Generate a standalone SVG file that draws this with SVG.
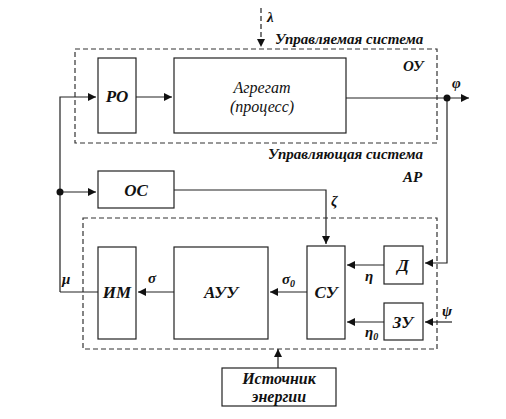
<svg xmlns="http://www.w3.org/2000/svg" width="506" height="419" viewBox="0 0 506 419">
<style>
.box{fill:#fff;stroke:#222;stroke-width:1.2}
.dash{fill:none;stroke:#333;stroke-width:1.2;stroke-dasharray:5,3}
.ln{fill:none;stroke:#222;stroke-width:1.2}
text{font-family:'Liberation Serif','Times New Roman',serif;font-style:italic;font-weight:bold;fill:#111}
.tn{font-weight:normal}
</style>
<defs>
<marker id="ar" viewBox="0 0 10 10" refX="10" refY="5" markerWidth="10" markerHeight="8" markerUnits="userSpaceOnUse" orient="auto">
<path d="M0,0 L10,5 L0,10 z" fill="#111"/>
</marker>
</defs>
<rect width="506" height="419" fill="#fff"/>
<g id="controlled-system">
<rect class="dash" x="75" y="49" width="362" height="94"/>
<text x="275" y="44" font-size="15">Управляемая система</text>
<text x="403" y="71" font-size="15">ОУ</text>
</g>
<g id="controlling-system">
<rect class="dash" x="83" y="218" width="354" height="131"/>
<text x="268" y="159" font-size="15">Управляющая система</text>
<text x="403" y="182" font-size="15">АР</text>
</g>
<g id="connectors">
<path class="ln" d="M261,8 V47" stroke-dasharray="5,3" marker-end="url(#ar)"/>
<path class="ln" d="M136,97 H172" marker-end="url(#ar)"/>
<path class="ln" d="M346,98 H469" marker-end="url(#ar)"/>
<path class="ln" d="M447,98 V263 H425" marker-end="url(#ar)"/>
<path class="ln" d="M60,292 V97 H96" marker-end="url(#ar)"/>
<path class="ln" d="M60,192 H96" marker-end="url(#ar)"/>
<path class="ln" d="M174,190 H326 V244" marker-end="url(#ar)"/>
<path class="ln" d="M98,292 H60"/>
<path class="ln" d="M174,292 H138" marker-end="url(#ar)"/>
<path class="ln" d="M307,292 H270" marker-end="url(#ar)"/>
<path class="ln" d="M384,265 H347" marker-end="url(#ar)"/>
<path class="ln" d="M384,322 H347" marker-end="url(#ar)"/>
<path class="ln" d="M452,322 H425" marker-end="url(#ar)"/>
<path class="ln" d="M278,368 V349" marker-end="url(#ar)"/>
<circle cx="447" cy="98" r="3.5" fill="#111"/>
<circle cx="60" cy="192" r="3.5" fill="#111"/>
<text x="267" y="22" font-size="15">λ</text>
<text x="452" y="88" font-size="15">φ</text>
<text x="331" y="206" font-size="15">ζ</text>
<text x="62" y="284" font-size="15">μ</text>
<text x="148" y="283" font-size="15">σ</text>
<text x="282" y="284" font-size="15">σ<tspan font-size="10" dy="3">0</tspan></text>
<text x="365" y="281" font-size="15">η</text>
<text x="365" y="337" font-size="15">η<tspan font-size="10" dy="3">0</tspan></text>
<text x="442" y="316" font-size="15">ψ</text>
</g>
<g id="PO"><rect class="box" x="98" y="58" width="38" height="75"/><text x="117" y="102" font-size="17" text-anchor="middle">РО</text></g>
<g id="aggregate"><rect class="box" x="174" y="58" width="172" height="75"/><text class="tn" x="262" y="93" font-size="16" text-anchor="middle">Агрегат</text><text class="tn" x="262" y="112" font-size="16" text-anchor="middle">(процесс)</text></g>
<g id="OC"><rect class="box" x="98" y="171" width="76" height="37"/><text x="136" y="196" font-size="17" text-anchor="middle">ОС</text></g>
<g id="IM"><rect class="box" x="98" y="247" width="38" height="92"/><text x="117" y="298" font-size="17" text-anchor="middle">ИМ</text></g>
<g id="AUU"><rect class="box" x="174" y="247" width="94" height="92"/><text x="221" y="298" font-size="17" text-anchor="middle">АУУ</text></g>
<g id="SU"><rect class="box" x="307" y="246" width="38" height="93"/><text x="326" y="298" font-size="17" text-anchor="middle">СУ</text></g>
<g id="D"><rect class="box" x="384" y="246" width="39" height="38"/><text x="403" y="271" font-size="17" text-anchor="middle">Д</text></g>
<g id="ZU"><rect class="box" x="384" y="303" width="39" height="37"/><text x="403" y="328" font-size="17" text-anchor="middle">ЗУ</text></g>
<g id="energy"><rect class="box" x="222" y="368" width="114" height="38"/><text x="279" y="384" font-size="16" text-anchor="middle">Источник</text><text x="279" y="402" font-size="16" text-anchor="middle">энергии</text></g>
</svg>
